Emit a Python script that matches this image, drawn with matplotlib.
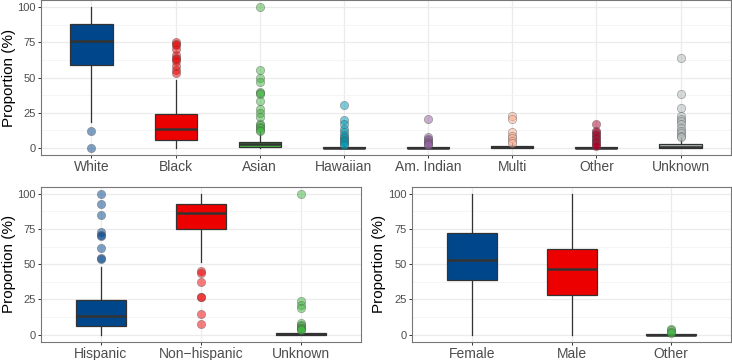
import matplotlib
matplotlib.use("Agg")
import matplotlib.pyplot as plt
import matplotlib.ticker as ticker

plt.rcParams['font.family'] = ['Liberation Sans', 'DejaVu Sans']

# lancet palette
colors = ["#00468B", "#ED0000", "#42B540", "#0099B4", "#925E9F", "#FDAF91", "#AD002A", "#ADB6B6"]

# --- race panel ---
race_labels = ["White", "Black", "Asian", "Hawaiian", "Am. Indian", "Multi", "Other", "Unknown"]
race_q1 = [58.6, 5.9, 0.5, 0.0, 0.0, 0.0, 0.0, 0.0]
race_med = [76.0, 13.4, 2.5, 0.2, 0.2, 0.5, 0.1, 1.0]
race_q3 = [88.0, 24.0, 4.5, 0.5, 0.5, 1.5, 0.5, 3.0]
race_lo = [18.6, 0.0, 0.0, 0.0, 0.0, 0.0, 0.0, 0.0]
race_hi = [100.0, 48.0, 11.0, 1.2, 1.2, 3.5, 1.2, 7.0]
race_out = [
    [12.2, 0.0],
    [75, 74, 73, 70, 66, 64, 63, 62, 58, 55, 53],
    [100, 55.5, 50, 46.5, 40, 39, 38, 33, 28, 25, 22, 17, 16, 15, 14, 13, 12],
    [30.5, 19.5, 17, 13.5, 11, 9, 8, 7, 6, 5, 4, 3, 2],
    [20.5, 7.5, 6.5, 5.5, 4.5, 3.5, 2.5, 2],
    [22.4, 20.5, 11, 8.7, 7, 5.2, 3.5],
    [17, 12, 11, 10, 9, 8, 7, 6, 5, 4, 3, 2, 1.6],
    [64, 38, 28.7, 22.8, 20.5, 19, 17, 14.5, 12.2, 10.5, 8.7, 7.5],
]

# --- ethnicity panel ---
eth_labels = ["Hispanic", "Non\u2212hispanic", "Unknown"]
eth_q1 = [5.9, 75.0, 0.0]
eth_med = [13.5, 86.3, 0.5]
eth_q3 = [24.6, 93.0, 1.5]
eth_lo = [0.0, 51.3, 0.0]
eth_hi = [48.2, 100.0, 3.0]
eth_out = [
    [100, 92.5, 85, 73, 71, 70, 61.5, 54.5, 54],
    [45.5, 44, 37.5, 27, 26.5, 15, 7.5],
    [100, 24, 21, 19, 8.5, 7, 6, 5, 4.5, 4, 3.5],
]

# --- sex panel ---
sex_labels = ["Female", "Male", "Other"]
sex_q1 = [38.8, 28.1, 0.0]
sex_med = [53.2, 46.6, 0.1]
sex_q3 = [71.9, 61.0, 0.4]
sex_lo = [0.0, 0.0, 0.0]
sex_hi = [100.0, 100.0, 0.8]
sex_out = [[], [], [4, 3, 2, 1.5]]


def draw_panel(ax, labels, q1, med, q3, lo, hi, out, label_x):
    stats = []
    for i in range(len(labels)):
        stats.append({"q1": q1[i], "med": med[i], "q3": q3[i],
                      "whislo": lo[i], "whishi": hi[i], "fliers": []})
    pos = list(range(1, len(labels) + 1))
    bp = ax.bxp(stats, positions=pos, widths=0.5, patch_artist=True,
                showfliers=False, showcaps=False,
                boxprops=dict(edgecolor="#333333", linewidth=0.9),
                whiskerprops=dict(color="#333333", linewidth=0.9),
                medianprops=dict(color="#333333", linewidth=1.8))
    for i, b in enumerate(bp["boxes"]):
        b.set_facecolor(colors[i])
        b.set_zorder(3)
    for m in bp["medians"]:
        m.set_zorder(4)
    for i, vals in enumerate(out):
        if not vals:
            continue
        ax.plot([pos[i]] * len(vals), vals, "o", color=colors[i], alpha=0.5,
                markersize=6, markeredgewidth=0.5, markeredgecolor="#555555", zorder=5)

    ax.set_xlim(0.4, len(labels) + 0.6)
    ax.set_ylim(-5, 105)
    ax.set_xticks(pos)
    ax.set_xticklabels(labels, fontsize=10, color="#4D4D4D")
    ax.set_yticks([0, 25, 50, 75, 100])
    ax.yaxis.set_minor_locator(ticker.MultipleLocator(12.5))
    ax.tick_params(axis="y", labelsize=8, colors="#4D4D4D", length=2.5, width=0.7, pad=1.5)
    ax.tick_params(axis="y", which="minor", length=0)
    ax.tick_params(axis="x", length=2.5, width=0.7, color="#333333", pad=1)
    ax.tick_params(axis="y", color="#333333")
    ax.grid(True, which="major", color="#EBEBEB", linewidth=0.9, zorder=0)
    ax.grid(True, which="minor", axis="y", color="#F2F2F2", linewidth=0.5, zorder=0)
    ax.set_axisbelow(True)
    for s in ax.spines.values():
        s.set_color("#777777")
        s.set_linewidth(0.8)
    ax.set_ylabel("Proportion (%)", fontsize=11, color="black")
    ax.yaxis.label.set_verticalalignment("center")
    ax.yaxis.set_label_coords(label_x, 0.5)


fig = plt.figure(figsize=(7.32, 3.6), dpi=100)
ax1 = fig.add_axes([41 / 732, 205 / 360, 690 / 732, 155 / 360])
ax2 = fig.add_axes([41 / 732, 18.3 / 360, 319.7 / 732, 155 / 360])
ax3 = fig.add_axes([412.3 / 732, 18.3 / 360, 318.7 / 732, 155 / 360])

draw_panel(ax1, race_labels, race_q1, race_med, race_q3, race_lo, race_hi, race_out, (9 - 41) / 690)
draw_panel(ax2, eth_labels, eth_q1, eth_med, eth_q3, eth_lo, eth_hi, eth_out, (9 - 41) / 319.7)
draw_panel(ax3, sex_labels, sex_q1, sex_med, sex_q3, sex_lo, sex_hi, sex_out, (379 - 412.3) / 318.7)

fig.savefig("out.png", dpi=100)
